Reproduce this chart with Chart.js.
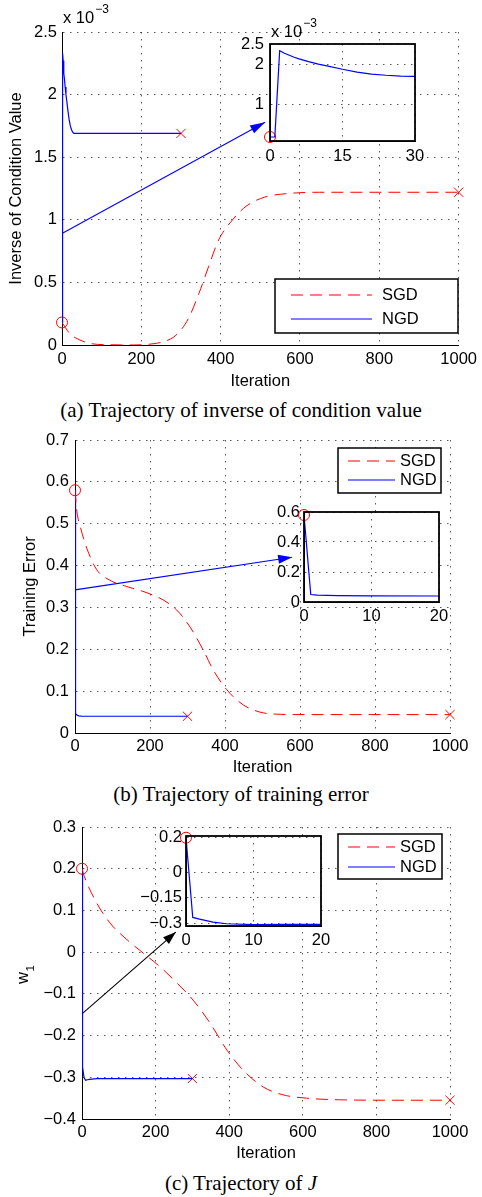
<!DOCTYPE html>
<html>
<head>
<meta charset="utf-8">
<title>SGD vs NGD trajectories</title>
<script src="https://cdn.jsdelivr.net/npm/chart.js@4.4.1/dist/chart.umd.min.js"></script>
<style>
  html, body { margin: 0; padding: 0; background: #fff; }
  #page { position: relative; width: 482px; height: 1197px; overflow: hidden; }
  #page canvas { position: absolute; }
  .cap { position: absolute; left: 0; width: 482px; text-align: center;
         font-family: "Liberation Serif", "Times New Roman", serif; font-size: 21px; line-height: 24px; color: #000; }
</style>
</head>
<body>
<div id="page">
  <canvas id="mainA" width="482" height="395" style="left:0;top:0"></canvas>
  <canvas id="insetA" width="225" height="160" style="left:215px;top:15px"></canvas>
  <div class="cap" style="top:398px">(a) Trajectory of inverse of condition value</div>
  <canvas id="mainB" width="482" height="361" style="left:0;top:420px"></canvas>
  <canvas id="insetB" width="215" height="145" style="left:255px;top:490px"></canvas>
  <div class="cap" style="top:782px">(b) Trajectory of training error</div>
  <canvas id="mainC" width="482" height="362" style="left:0;top:805px"></canvas>
  <canvas id="insetC" width="215" height="140" style="left:130px;top:815px"></canvas>
  <div class="cap" style="top:1171px">(c) Trajectory of <i>J</i></div>
</div>
<script>
// ---- data ----
const xTicksMain = [0, 200, 400, 600, 800, 1000];

// (a) inverse of condition value, in units of 1e-3
const sgdIterA = [0, 20, 45, 75, 120, 180, 230, 260, 280, 300, 320, 345, 370, 395, 430, 465, 510, 570, 650, 800, 1000];
const sgdValA  = [0.18, 0.09, 0.04, 0.01, 0.002, 0.0, 0.01, 0.03, 0.06, 0.12, 0.22, 0.41, 0.63, 0.84, 1.0, 1.11, 1.18, 1.21, 1.22, 1.22, 1.22];
const ngdIterA = [0, 1, 2, 3, 4, 5, 6, 8, 10, 12, 15, 18, 21, 24, 27, 30, 40, 300];
const ngdValA  = [0.18, 0.18, 2.33, 2.27, 2.22, 2.17, 2.13, 2.06, 2.0, 1.95, 1.87, 1.8, 1.75, 1.72, 1.7, 1.69, 1.69, 1.69];
const arrowIterA = [0, 512];
const arrowValA  = [0.89, 1.78];
const yTicksA = [0, 0.5, 1, 1.5, 2, 2.5];
const insetXTicksA = [0, 15, 30];
const insetYTicksA = [1, 2, 2.5];

// (b) training error
const sgdIterB = [0, 5, 15, 32, 58, 93, 138, 192, 235, 271, 307, 342, 369, 405, 449, 493, 538, 600, 800, 1000];
const sgdValB  = [0.58, 0.53, 0.49, 0.44, 0.39, 0.365, 0.35, 0.335, 0.318, 0.294, 0.253, 0.198, 0.15, 0.103, 0.067, 0.05, 0.045, 0.044, 0.044, 0.044];
const ngdIterB = [0, 1, 2, 5, 10, 20, 300];
const ngdValB  = [0.58, 0.05, 0.046, 0.043, 0.041, 0.04, 0.04];
const arrowIterB = [0, 579];
const arrowValB  = [0.342, 0.42];
const yTicksB = [0, 0.1, 0.2, 0.3, 0.4, 0.5, 0.6, 0.7];
const insetXTicksB = [0, 10, 20];
const insetYTicksB = [0, 0.2, 0.4, 0.6];

// (c) w1
const sgdIterC = [0, 3, 40, 76, 122, 166, 212, 258, 302, 348, 394, 438, 492, 546, 610, 700, 850, 1000];
const sgdValC  = [0.2, 0.19, 0.118, 0.07, 0.03, -0.002, -0.035, -0.074, -0.115, -0.17, -0.235, -0.283, -0.323, -0.342, -0.35, -0.354, -0.355, -0.355];
const ngdIterC = [0, 1, 2, 4, 6, 10, 15, 20, 40, 300];
const ngdValC  = [0.2, -0.265, -0.275, -0.292, -0.302, -0.307, -0.306, -0.305, -0.303, -0.303];
const arrowIterC = [0, 255];
const arrowValC  = [-0.148, 0.048];
const yTicksC = [-0.4, -0.3, -0.2, -0.1, 0, 0.1, 0.2, 0.3];
const insetXTicksC = [0, 10, 20];
const insetYTicksC = [-0.3, -0.15, 0, 0.2];

// ---- helpers ----
const FONT = { family: '"Liberation Sans", Arial, Helvetica, sans-serif', size: 16.5 };
const CSSFONT = '"Liberation Sans", Arial, Helvetica, sans-serif';
const RED = '#ff0000', BLUE = '#0000ff', BLACK = '#000000';
const GRID = 'rgba(0,0,0,0.65)';

function pts(xs, ys) { return xs.map((x, i) => ({ x: x, y: ys[i] })); }
function fmt(v) { return String(Math.round(v * 1000) / 1000).replace('-', '\u2212'); }

function axis(o) {
  return {
    type: 'linear', min: o.min, max: o.max,
    afterBuildTicks: s => { s.ticks = o.ticks.map(v => ({ value: v })); },
    afterFit: s => { if (s.isHorizontal()) s.height = o.size; else s.width = o.size; },
    ticks: { color: BLACK, font: FONT, padding: o.pad, maxRotation: 0, autoSkip: false, callback: v => fmt(v) },
    grid: { color: GRID, lineWidth: 1, drawTicks: false },
    border: { display: true, color: BLACK, width: 1, dash: [1.5, 5.5] },
    title: o.title ? { display: true, text: o.title, color: BLACK, font: FONT, padding: o.titlePad } : { display: false }
  };
}

function sgdLine(xs, ys) {
  return { label: 'SGD', key: true, data: pts(xs, ys), borderColor: RED, borderWidth: 1,
           borderDash: [12, 7], cubicInterpolationMode: 'monotone', pointRadius: 0 };
}
function ngdLine(xs, ys) {
  return { label: 'NGD', key: true, data: pts(xs, ys), borderColor: BLUE, borderWidth: 1.2,
           tension: 0, pointRadius: 0 };
}
function startMark(xs, ys) {
  return { label: 'start', data: [{ x: xs[0], y: ys[0] }], showLine: false, clip: false,
           pointStyle: 'circle', pointRadius: 5.5, pointBorderColor: RED, pointBorderWidth: 1,
           pointBackgroundColor: 'rgba(0,0,0,0)', borderColor: RED };
}
function endMarks(sx, sy, nx, ny) {
  return { label: 'end', showLine: false, clip: false,
           data: [{ x: sx[sx.length - 1], y: sy[sy.length - 1] }, { x: nx[nx.length - 1], y: ny[ny.length - 1] }],
           pointStyle: 'crossRot', pointRadius: 6.5, pointBorderColor: RED, pointBorderWidth: 1, borderColor: RED };
}
function arrowLine(xs, ys, color, head) {
  return { label: 'arrow', data: pts(xs, ys), borderColor: color, borderWidth: 1.1, pointRadius: 0,
           tension: 0, clip: false, head: head };
}

function decorPlugin(d) {
  return {
    id: 'decor',
    beforeDraw(chart) {
      if (!d.box) return;
      const a = chart.chartArea, ctx = chart.ctx;
      ctx.save();
      ctx.fillStyle = '#fff';
      ctx.fillRect(a.left, a.top, a.right - a.left, a.bottom - a.top);
      ctx.restore();
    },
    afterDraw(chart) {
      const a = chart.chartArea, ctx = chart.ctx;
      ctx.save();
      if (d.box) {
        ctx.strokeStyle = BLACK; ctx.lineWidth = 1.8;
        ctx.strokeRect(a.left, a.top, a.right - a.left, a.bottom - a.top);
      }
      // arrow heads at the last point of arrow datasets
      chart.data.datasets.forEach((ds, i) => {
        if (!ds.head) return;
        const el = chart.getDatasetMeta(i).data;
        const p = el[el.length - 2], q = el[el.length - 1];
        const t = Math.atan2(q.y - p.y, q.x - p.x), c = Math.cos(t), s = Math.sin(t);
        const L = ds.head[0], w = ds.head[1] / 2;
        ctx.fillStyle = ds.borderColor;
        ctx.beginPath();
        ctx.moveTo(q.x, q.y);
        ctx.lineTo(q.x - L * c - w * s, q.y - L * s + w * c);
        ctx.lineTo(q.x - L * c + w * s, q.y - L * s - w * c);
        ctx.closePath();
        ctx.fill();
      });
      if (d.exp) {
        ctx.fillStyle = BLACK; ctx.textBaseline = 'middle'; ctx.textAlign = 'left';
        ctx.font = '16.5px ' + CSSFONT;
        const x0 = a.left + d.exp.dx, y0 = a.top - d.exp.dy;
        ctx.fillText('x 10', x0, y0);
        const w = ctx.measureText('x 10').width;
        ctx.font = '12px ' + CSSFONT;
        ctx.fillText(d.exp.power, x0 + w + 1, y0 - 8);
      }
      if (d.subLabel) {
        // rotated axis label with a subscript (w with subscript 1)
        const s = d.subLabel;
        ctx.translate(s.x, s.y);
        ctx.rotate(-Math.PI / 2);
        ctx.fillStyle = BLACK; ctx.textAlign = 'left'; ctx.textBaseline = 'alphabetic';
        ctx.font = '16.5px ' + CSSFONT;
        ctx.fillText(s.base, 0, 0);
        const w = ctx.measureText(s.base).width;
        ctx.font = '11.5px ' + CSSFONT;
        ctx.fillText(s.sub, w + 0.5, 6);
        ctx.setTransform(1, 0, 0, 1, 0, 0);
      }
      if (d.legend) {
        const L = d.legend;
        ctx.fillStyle = '#fff';
        ctx.fillRect(L.x1, L.y1, L.x2 - L.x1, L.y2 - L.y1);
        ctx.strokeStyle = BLACK; ctx.lineWidth = 1.5;
        ctx.strokeRect(L.x1, L.y1, L.x2 - L.x1, L.y2 - L.y1);
        chart.data.datasets.filter(ds => ds.key).forEach((ds, k) => {
          const y = L.rows[k];
          ctx.strokeStyle = ds.borderColor; ctx.lineWidth = ds.borderWidth;
          ctx.setLineDash(ds.borderDash || []);
          ctx.beginPath(); ctx.moveTo(L.lx1, y); ctx.lineTo(L.lx2, y); ctx.stroke();
          ctx.setLineDash([]);
          ctx.fillStyle = BLACK; ctx.font = '16.5px ' + CSSFONT;
          ctx.textBaseline = 'middle'; ctx.textAlign = 'left';
          ctx.fillText(ds.label, L.tx, y);
        });
      }
      ctx.restore();
    }
  };
}

function plot(id, area, xo, yo, datasets, decor) {
  const cv = document.getElementById(id);
  const W = cv.width, H = cv.height;
  xo.size = H - area.b;
  yo.size = area.l;
  return new Chart(cv, {
    type: 'line',
    data: { datasets: datasets },
    options: {
      responsive: false, animation: false, devicePixelRatio: 1,
      layout: { padding: { left: 0, top: area.t, right: W - area.r, bottom: 0 } },
      scales: { x: axis(xo), y: axis(yo) },
      plugins: { legend: { display: false }, tooltip: { enabled: false } }
    },
    plugins: [decorPlugin(decor)]
  });
}

// ---- (a) ----
plot('mainA', { l: 62, t: 32, r: 462, b: 345 },
  { min: 0, max: 1000, ticks: xTicksMain, pad: 5, title: 'Iteration', titlePad: { top: 0, bottom: 4 } },
  { min: 0, max: 2.5, ticks: yTicksA, pad: 5, title: 'Inverse of Condition Value', titlePad: { top: 7, bottom: 0 } },
  [sgdLine(sgdIterA, sgdValA), ngdLine(ngdIterA, ngdValA), startMark(sgdIterA, sgdValA),
   endMarks(sgdIterA, sgdValA, ngdIterA, ngdValA), arrowLine(arrowIterA, arrowValA, BLUE, [15, 9])],
  { exp: { dx: 1, dy: 14, power: '\u22123' },
    legend: { x1: 275, y1: 279, x2: 458, y2: 333, rows: [295, 319], lx1: 291, lx2: 372, tx: 382 } });

plot('insetA', { l: 55, t: 29, r: 200, b: 126 },
  { min: 0, max: 30, ticks: insetXTicksA, pad: 6 },
  { min: 0.08, max: 2.5, ticks: insetYTicksA, pad: 6 },
  [ngdLine(ngdIterA, ngdValA), startMark(sgdIterA, sgdValA)],
  { box: true, exp: { dx: 1, dy: 12, power: '\u22123' } });

// ---- (b) ----
plot('mainB', { l: 75, t: 20, r: 450, b: 313 },
  { min: 0, max: 1000, ticks: xTicksMain, pad: 4, title: 'Iteration', titlePad: { top: 0, bottom: 4 } },
  { min: 0, max: 0.7, ticks: yTicksB, pad: 6, title: 'Training Error', titlePad: { top: 21, bottom: 0 } },
  [sgdLine(sgdIterB, sgdValB), ngdLine(ngdIterB, ngdValB), startMark(sgdIterB, sgdValB),
   endMarks(sgdIterB, sgdValB, ngdIterB, ngdValB), arrowLine(arrowIterB, arrowValB, BLUE, [14, 9])],
  { legend: { x1: 338, y1: 28, x2: 441, y2: 73, rows: [41, 60], lx1: 348, lx2: 395, tx: 400 } });

plot('insetB', { l: 49, t: 22, r: 184, b: 112 },
  { min: 0, max: 20, ticks: insetXTicksB, pad: 5 },
  { min: 0, max: 0.6, ticks: insetYTicksB, pad: 4 },
  [ngdLine(ngdIterB, ngdValB), startMark(sgdIterB, sgdValB)],
  { box: true });

// ---- (c) ----
plot('mainC', { l: 82, t: 22, r: 450, b: 314 },
  { min: 0, max: 1000, ticks: xTicksMain, pad: 4, title: 'Iteration', titlePad: { top: 0, bottom: 4 } },
  { min: -0.4, max: 0.3, ticks: yTicksC, pad: 6 },
  [sgdLine(sgdIterC, sgdValC), ngdLine(ngdIterC, ngdValC), startMark(sgdIterC, sgdValC),
   endMarks(sgdIterC, sgdValC, ngdIterC, ngdValC), arrowLine(arrowIterC, arrowValC, BLACK, [13, 9])],
  { subLabel: { base: 'w', sub: '1', x: 28, y: 179 },
    legend: { x1: 338, y1: 29, x2: 442, y2: 74, rows: [42, 62], lx1: 348, lx2: 395, tx: 400 } });

plot('insetC', { l: 56, t: 21, r: 191, b: 111 },
  { min: 0, max: 20, ticks: insetXTicksC, pad: 5 },
  { min: -0.315, max: 0.21, ticks: insetYTicksC, pad: 4 },
  [ngdLine(ngdIterC, ngdValC), startMark(sgdIterC, sgdValC)],
  { box: true });
</script>
</body>
</html>
